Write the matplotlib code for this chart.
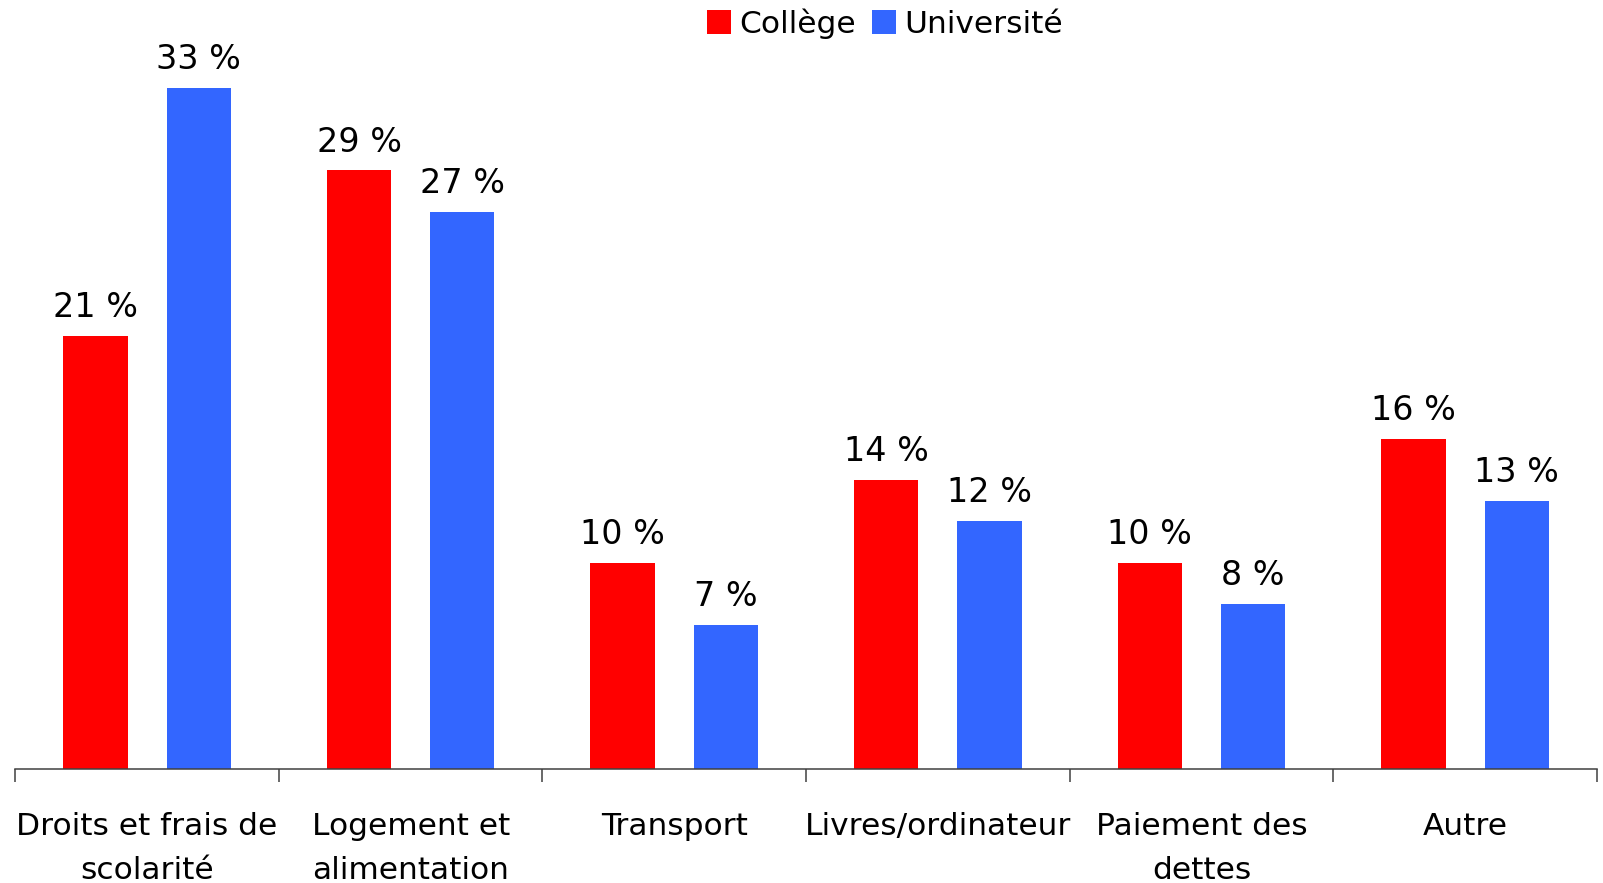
import matplotlib
matplotlib.use("Agg")
import matplotlib.pyplot as plt
import numpy as np

# data
categories = ["Droits et frais de\nscolarité", "Logement et\nalimentation", "Transport",
              "Livres/ordinateur", "Paiement des\ndettes", "Autre"]
college = [21, 29, 10, 14, 10, 16]
universite = [33, 27, 7, 12, 8, 13]

red = "#FF0000"
blue = "#3366FF"
fsize = 22.5

plt.rcParams['font.family'] = ['DejaVu Sans']

fig = plt.figure(figsize=(16.03, 8.83), dpi=100)
# axes: x from 15 px to 1597 px, axis line at y=769 px
ax = fig.add_axes([15.3 / 1603, 1 - 769 / 883, (1596.8 - 15.3) / 1603, 769 / 883])

x = np.arange(len(categories))
off = 0.196
w = 0.244
b1 = ax.bar(x - off, college, w, color=red, label="Collège")
b2 = ax.bar(x + off, universite, w, color=blue, label="Université")

for bars, vals in ((b1, college), (b2, universite)):
    for rect, v in zip(bars, vals):
        ax.annotate("%d %%" % v, (rect.get_x() + rect.get_width() / 2, v),
                    xytext=(0, 20.5), textcoords="offset points",
                    ha="center", va="center", fontsize=24)

ax.set_xlim(-0.5, len(categories) - 0.5)
ax.set_ylim(0, 37.26)

for s in ("top", "left", "right"):
    ax.spines[s].set_visible(False)
ax.spines["bottom"].set_color("#404040")
ax.spines["bottom"].set_linewidth(1.1)
ax.set_yticks([])

ax.set_xticks(x)
ax.set_xticklabels(categories, fontsize=fsize, linespacing=1.65)
ax.tick_params(axis="x", which="major", length=0, pad=31)
ax.set_xticks(np.arange(-0.5, len(categories)), minor=True)
ax.tick_params(axis="x", which="minor", length=9.6, width=1.1, color="#404040", direction="out")

fig.legend(handles=[b1, b2], loc="center", bbox_to_anchor=(885 / 1603, 1 - 23.5 / 883),
           ncol=2, frameon=False, fontsize=fsize, handlelength=0.78, handleheight=0.78,
           handletextpad=0.26, columnspacing=0.5, borderpad=0, borderaxespad=0)

fig.savefig("out.png", dpi=100)
